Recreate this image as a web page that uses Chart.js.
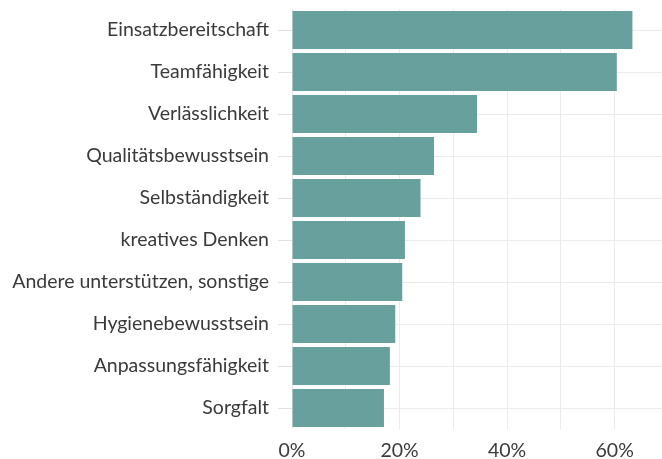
<!DOCTYPE html>
<html>
<head>
<meta charset="utf-8">
<script src="https://cdn.jsdelivr.net/npm/chart.js@4.4.0/dist/chart.umd.min.js"></script>
<style>
  html, body { margin: 0; padding: 0; background: #ffffff; }
  #wrap { width: 662px; height: 459px; position: relative; }
</style>
</head>
<body>
<div id="wrap"><canvas id="c" width="662" height="459"></canvas></div>
<script>
const categories = [
  "Einsatzbereitschaft",
  "Teamfähigkeit",
  "Verlässlichkeit",
  "Qualitätsbewusstsein",
  "Selbständigkeit",
  "kreatives Denken",
  "Andere unterstützen, sonstige",
  "Hygienebewusstsein",
  "Anpassungsfähigkeit",
  "Sorgfalt"
];
const shares = [63.3, 60.4, 34.4, 26.4, 23.9, 21.0, 20.5, 19.2, 18.2, 17.1];
const xTickLabels = ["0%", "20%", "40%", "60%"];
const xMax = 68.8;

Chart.defaults.font.family = "Lato, 'Open Sans', sans-serif";
Chart.defaults.color = "#3a3a3a";

new Chart(document.getElementById('c'), {
  type: 'bar',
  data: {
    labels: categories,
    datasets: [{
      data: shares,
      backgroundColor: '#68a09e',
      borderWidth: 0,
      categoryPercentage: 1.0,
      barPercentage: 0.9
    }]
  },
  options: {
    indexAxis: 'y',
    responsive: false,
    animation: false,
    maintainAspectRatio: false,
    layout: { padding: { top: 9, right: 0, bottom: 0, left: 0 } },
    plugins: { legend: { display: false }, tooltip: { enabled: false } },
    scales: {
      x: {
        type: 'linear',
        min: 0,
        max: xMax,
        border: { display: false },
        grid: {
          drawTicks: false,
          lineWidth: 1,
          color: '#ebebeb'
        },
        ticks: {
          stepSize: 10,
          includeBounds: false,
          padding: 10,
          font: { size: 19.5 },
          color: '#3a3a3a',
          maxRotation: 0,
          autoSkip: false,
          callback: (v) => {
            if (Math.abs(v % 20) < 1e-6) {
              const lbl = Math.round(v) + '%';
              return xTickLabels.includes(lbl) ? lbl : '';
            }
            return '';
          }
        },
        afterFit: (s) => { s.height = 30; s.paddingLeft = 0; s.paddingRight = 0; }
      },
      y: {
        border: { display: false },
        grid: {
          offset: false,
          color: '#ebebeb',
          lineWidth: 1,
          drawTicks: true,
          tickLength: 14,
          tickColor: '#e0e0e0'
        },
        ticks: {
          padding: 9,
          font: { size: 19.5 },
          color: '#3a3a3a',
          autoSkip: false
        },
        afterFit: (s) => { s.width = 292; s.paddingTop = 0; s.paddingBottom = 0; }
      }
    }
  }
});
</script>
</body>
</html>
